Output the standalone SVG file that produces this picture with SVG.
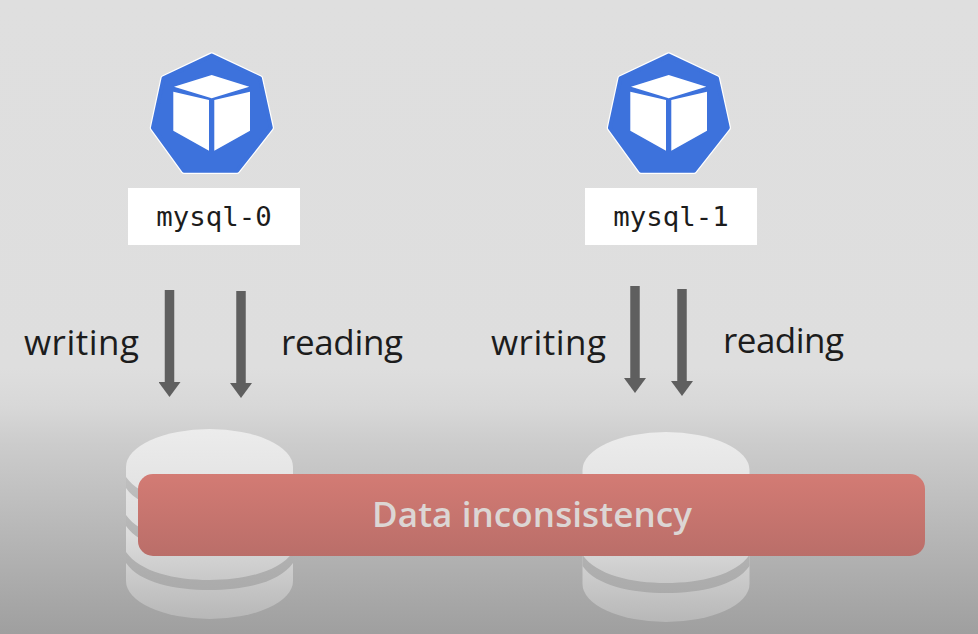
<svg xmlns="http://www.w3.org/2000/svg" width="978" height="634" viewBox="0 0 978 634">
<style>
.lbl{font-family:"Open Sans","Noto Sans",sans-serif;font-size:35px;fill:#1c1c1c}
.mono{font-family:"DejaVu Sans Mono",monospace;font-size:27.4px;fill:#1c1c1c;text-anchor:middle}
.arrow{stroke:#5f5f5f;stroke-width:9.5;fill:none;marker-end:url(#head)}
.box{fill:#fff}
</style>
<defs>
<linearGradient id="bg" gradientUnits="userSpaceOnUse" x1="0" y1="0" x2="0" y2="634">
<stop offset="0" stop-color="#dfdfdf"/><stop offset="0.58" stop-color="#dedede"/><stop offset="0.64" stop-color="#d8d8d8"/><stop offset="0.7" stop-color="#cccccc"/><stop offset="1" stop-color="#9f9f9f"/>
</linearGradient>
<linearGradient id="gap" gradientUnits="userSpaceOnUse" x1="0" y1="470" x2="0" y2="600">
<stop offset="0" stop-color="#c0c0c0"/><stop offset="1" stop-color="#a9a9a9"/>
</linearGradient>
<linearGradient id="disk" gradientUnits="userSpaceOnUse" x1="0" y1="429" x2="0" y2="622">
<stop offset="0" stop-color="#ececec"/><stop offset="0.55" stop-color="#dcdcdc"/><stop offset="1" stop-color="#b6b6b6"/>
</linearGradient>
<linearGradient id="ban" x1="0" y1="0" x2="0" y2="1">
<stop offset="0" stop-color="#d37b74"/><stop offset="1" stop-color="#ba6e69"/>
</linearGradient>
<marker id="head" markerUnits="userSpaceOnUse" markerWidth="15" markerHeight="22" refX="0" refY="11" orient="auto" viewBox="0 0 15 22">
<path d="M0,0 L15,11 L0,22 Z" fill="#5f5f5f"/>
</marker>
<path id="hept" d="M61.7,13 L111.7,36.7 L123,88 L88,132.7 L33,132.7 L0.7,88 L11.7,36.7 Z" transform="translate(62,82) scale(.965) translate(-62,-82)" stroke-linejoin="round"/>
<g id="pod">
<use href="#hept" fill="#fff" stroke="#fff" stroke-width="6.5"/>
<use href="#hept" fill="#3d72dc" stroke="#3d72dc" stroke-width="4"/>
<path d="M61.7,35 L99.3,46.7 L61.7,58.3 L24,46.7 Z M23.3,51.7 L59,60 L59,110.7 L23.3,90.7 Z M64.3,60 L100,51.7 L100,90.7 L64.3,110.7 Z" fill="#fff"/>
</g>
<g id="cyl">
<path d="M126,467 A83.5,38 0 0 1 293,467 L293,581 A83.5,38 0 0 1 126,581 Z" fill="url(#disk)"/>
<path d="M126,477 C140,497 175,505 209.5,505 C244,505 279,497 293,477 L293,488 C279,508 244,515 209.5,515 C175,515 140,508 126,488 Z" fill="url(#gap)"/>
<path d="M126,515 C140,535 175,543 209.5,543 C244,543 279,535 293,515 L293,526 C279,546 244,553 209.5,553 C175,553 140,546 126,526 Z" fill="url(#gap)"/>
<path d="M126,552 C140,572 175,580 209.5,580 C244,580 279,572 293,552 L293,563 C279,583 244,590 209.5,590 C175,590 140,583 126,563 Z" fill="url(#gap)"/>
</g>
</defs>
<rect id="background" width="978" height="634" fill="url(#bg)"/>
<g id="storage-0"><use href="#cyl"/></g>
<g id="storage-1"><use href="#cyl" transform="translate(456.5,3)"/></g>
<g id="mysql-0">
<use href="#pod" transform="translate(150,40)"/>
<rect class="box" x="128" y="188" width="172" height="57"/>
<text class="mono" x="214" y="226">mysql-0</text>
</g>
<g id="mysql-1">
<use href="#pod" transform="translate(607,40)"/>
<rect class="box" x="585" y="188" width="172" height="57"/>
<text class="mono" x="671" y="226">mysql-1</text>
</g>
<g id="connectors">
<line class="arrow" x1="169.5" y1="290" x2="169.5" y2="382"/>
<line class="arrow" x1="241" y1="291" x2="241" y2="383"/>
<line class="arrow" x1="635" y1="286" x2="635" y2="378"/>
<line class="arrow" x1="682" y1="289" x2="682" y2="381"/>
</g>
<g id="labels">
<text class="lbl" x="24" y="355" textLength="115" lengthAdjust="spacing">writing</text>
<text class="lbl" x="281" y="355" textLength="122" lengthAdjust="spacing">reading</text>
<text class="lbl" x="491" y="355" textLength="115" lengthAdjust="spacing">writing</text>
<text class="lbl" x="723" y="353" textLength="121" lengthAdjust="spacing">reading</text>
</g>
<g id="banner">
<rect x="138" y="474" width="787" height="82" rx="15" fill="url(#ban)"/>
<text x="372" y="527" textLength="320" lengthAdjust="spacing" font-family="Open Sans, Noto Sans, sans-serif" font-weight="600" font-size="35" fill="#dcd6d4">Data inconsistency</text>
</g>
</svg>
